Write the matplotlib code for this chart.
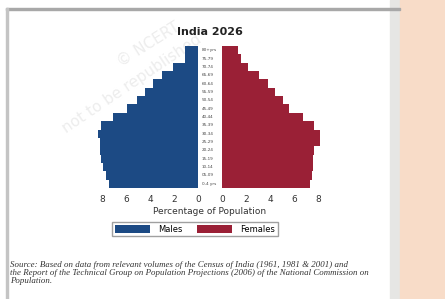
import matplotlib.pyplot as plt
from matplotlib.patches import Rectangle, Patch

# Age groups from youngest to oldest
ages = ['0-4 yrs', '05-09', '10-14', '15-19', '20-24', '25-29', '30-34', '35-39',
        '40-44', '45-49', '50-54', '55-59', '60-64', '65-69', '70-74', '75-79', '80+yrs']
# Percentage of population
males = [7.45, 7.7, 7.9, 8.05, 8.15, 8.2, 8.35, 8.1, 7.1, 5.9, 5.1, 4.45, 3.75, 3.0, 2.1, 1.1, 1.1]
females = [7.3, 7.5, 7.6, 7.6, 7.7, 8.2, 8.2, 7.7, 6.75, 5.6, 5.1, 4.45, 3.8, 3.1, 2.2, 1.6, 1.33]
ticks = [0, 2, 4, 6, 8]

title = 'India 2026'
source = ('Source: Based on data from relevant volumes of the Census of India (1961, 1981 & 2001) and\n'
          'the Report of the Technical Group on Population Projections (2006) of the National Commission on\n'
          'Population.')

W, H = 445, 299
male_col = '#1c4a84'
female_col = '#9a2036'

fig = plt.figure(figsize=(W / 100, H / 100), dpi=100)


# helper: pixel box -> figure fraction
def box(x0, y0, x1, y1):
    return [x0 / W, 1 - y1 / H, (x1 - x0) / W, (y1 - y0) / H]


# page decoration (screenshot frame and side panel)
fig.patches.append(Rectangle((390 / W, 0), 10 / W, 1, transform=fig.transFigure,
                             color='#e6e6e4', zorder=-5))
fig.patches.append(Rectangle((400 / W, 0), 45 / W, 1, transform=fig.transFigure,
                             color='#f8dcc8', zorder=-5))
fig.patches.append(Rectangle((6 / W, 1 - 10 / H), 394 / W, 2.5 / H, transform=fig.transFigure,
                             color='#a8a8a8', zorder=-4))
fig.patches.append(Rectangle((6 / W, 0), 1.8 / W, 1 - 8 / H, transform=fig.transFigure,
                             color='#c4c4c4', zorder=-4))

# faint watermark
fig.text(148 / W, 1 - 44 / H, '\u00a9 NCERT', rotation=32, fontsize=11, color='#ededed',
         ha='center', va='center', zorder=-3)
fig.text(132 / W, 1 - 84 / H, 'not to be republished', rotation=34, fontsize=11, color='#ededed',
         ha='center', va='center', zorder=-3)

y = range(len(ages))
scale = 12  # px per percent
ax_m = fig.add_axes(box(198 - 9 * scale, 46, 198, 188))
ax_f = fig.add_axes(box(222, 46, 222 + 9 * scale, 188))

ax_m.barh(y, males, height=1.0, color=male_col, linewidth=0)
ax_f.barh(y, females, height=1.0, color=female_col, linewidth=0)
ax_m.set_xlim(9, 0)
ax_f.set_xlim(0, 9)
for ax in (ax_m, ax_f):
    ax.set_ylim(-0.5, len(ages) - 0.5)
    ax.set_yticks([])
    ax.set_xticks(ticks)
    ax.tick_params(axis='x', length=0, pad=5, labelsize=6.5, labelcolor='#333333')
    ax.patch.set_alpha(0)
    for s in ax.spines.values():
        s.set_visible(False)

# age labels between the two halves
for i, a in enumerate(ages):
    yy = 188 - (i + 0.5) * (142 / len(ages))
    fig.text(202 / W, 1 - yy / H, a, fontsize=3.0, color='#444444', ha='left', va='center')

fig.text(210 / W, 1 - 32 / H, title, fontsize=8, fontweight='bold', color='#222222',
         ha='center', va='center')
fig.text(210 / W, 1 - 212 / H, 'Percentage of Population', fontsize=6.5, color='#333333',
         ha='center', va='center')

handles = [Patch(facecolor=male_col, label='Males'), Patch(facecolor=female_col, label='Females')]
fig.legend(handles=handles, ncol=2, loc='center', bbox_to_anchor=(195 / W, 1 - 229 / H),
           fontsize=6, frameon=True, fancybox=False, edgecolor='#888888', handlelength=4.2,
           handleheight=1.1, columnspacing=1.8, borderpad=0.35, handletextpad=1.0)

fig.text(10 / W, 1 - 273 / H, source, fontsize=6.4, family='Liberation Serif', style='italic',
         color='#333333', ha='left', va='center', linespacing=1.05)

fig.savefig('out.png', dpi=100)
